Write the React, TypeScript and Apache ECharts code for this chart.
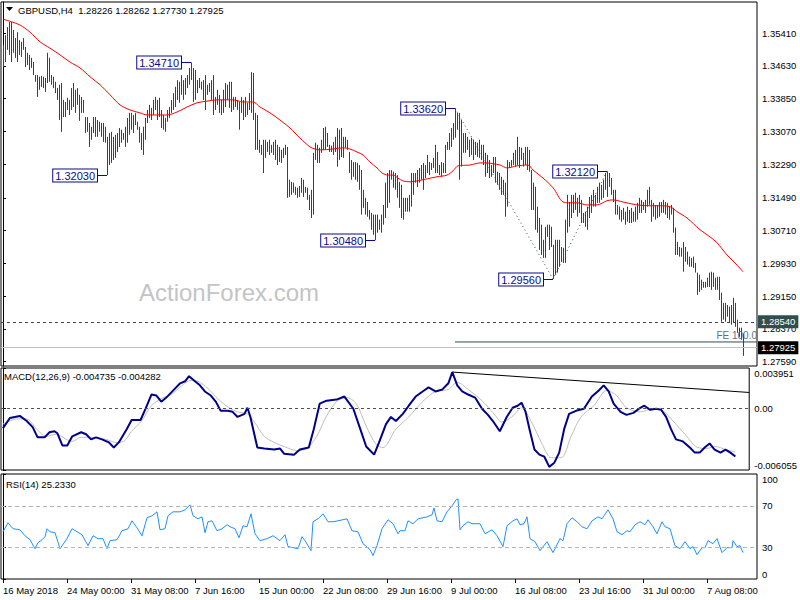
import React, { useEffect, useRef } from 'react';
import * as echarts from 'echarts';

const headerText = 'GBPUSD,H4  1.28226 1.28262 1.27730 1.27925';
const macdHeader = 'MACD(12,26,9) -0.004735 -0.004282';
const rsiHeader = 'RSI(14) 25.2330';
const watermark = 'ActionForex.com';

const priceTicks = [1.3541, 1.3463, 1.3385, 1.3307, 1.3229, 1.3149, 1.3071, 1.2993, 1.2915, 1.2837, 1.2759];
const priceMin = 1.27488;
const priceMax = 1.36148;
const macdTicks = [0.003951, 0, -0.006055];
const rsiTicks = [100, 70, 30, 0];
const timeTickIdx = [0, 32, 64, 96, 128, 160, 192, 224, 256, 288, 320, 352];
const timeTickLabels = ['16 May 2018', '24 May 00:00', '31 May 08:00', '7 Jun 16:00', '15 Jun 00:00', '22 Jun 08:00', '29 Jun 16:00', '9 Jul 00:00', '16 Jul 08:00', '23 Jul 16:00', '31 Jul 00:00', '7 Aug 08:00'];
const idxMin = -1;
const idxMax = 377;

// H4 bar highs / lows (bar 0 = 16 May 2018)
const highs = [
  1.3513, 1.3536, 1.3555, 1.3567, 1.3567, 1.3548, 1.3529, 1.3543, 1.3524, 1.3520,
  1.3529, 1.3508, 1.3494, 1.3489, 1.3482, 1.3472, 1.3441, 1.3441, 1.3437, 1.3439,
  1.3437, 1.3434, 1.3494, 1.3482, 1.3441, 1.3437, 1.3425, 1.3410, 1.3418, 1.3422,
  1.3382, 1.3377, 1.3387, 1.3382, 1.3410, 1.3422, 1.3406, 1.3410, 1.3394, 1.3389,
  1.3382, 1.3341, 1.3341, 1.3327, 1.3318, 1.3341, 1.3341, 1.3334, 1.3330, 1.3327,
  1.3327, 1.3318, 1.3294, 1.3303, 1.3306, 1.3294, 1.3299, 1.3303, 1.3315, 1.3311,
  1.3303, 1.3318, 1.3339, 1.3351, 1.3351, 1.3346, 1.3351, 1.3330, 1.3318, 1.3303,
  1.3318, 1.3339, 1.3358, 1.3370, 1.3363, 1.3382, 1.3389, 1.3382, 1.3387, 1.3358,
  1.3346, 1.3339, 1.3358, 1.3365, 1.3382, 1.3398, 1.3413, 1.3429, 1.3425, 1.3441,
  1.3429, 1.3434, 1.3441, 1.3458, 1.3471, 1.3458, 1.3453, 1.3429, 1.3434, 1.3425,
  1.3429, 1.3441, 1.3418, 1.3422, 1.3429, 1.3441, 1.3389, 1.3406, 1.3394, 1.3382,
  1.3406, 1.3422, 1.3418, 1.3425, 1.3425, 1.3389, 1.3389, 1.3382, 1.3377, 1.3389,
  1.3382, 1.3389, 1.3375, 1.3398, 1.3448, 1.3446, 1.3351, 1.3346, 1.3287, 1.3275,
  1.3287, 1.3287, 1.3282, 1.3287, 1.3275, 1.3282, 1.3287, 1.3275, 1.3270, 1.3263,
  1.3268, 1.3275, 1.3270, 1.3192, 1.3187, 1.3185, 1.3175, 1.3173, 1.3177, 1.3196,
  1.3192, 1.3175, 1.3173, 1.3156, 1.3168, 1.3256, 1.3280, 1.3275, 1.3268, 1.3287,
  1.3315, 1.3318, 1.3303, 1.3275, 1.3273, 1.3282, 1.3294, 1.3315, 1.3311, 1.3315,
  1.3294, 1.3294, 1.3287, 1.3258, 1.3239, 1.3234, 1.3234, 1.3232, 1.3227, 1.3215,
  1.3168, 1.3149, 1.3139, 1.3120, 1.3113, 1.3109, 1.3109, 1.3109, 1.3097, 1.3109,
  1.3132, 1.3185, 1.3208, 1.3215, 1.3215, 1.3211, 1.3208, 1.3203, 1.3187, 1.3180,
  1.3149, 1.3149, 1.3149, 1.3156, 1.3208, 1.3208, 1.3208, 1.3215, 1.3220, 1.3227,
  1.3232, 1.3227, 1.3251, 1.3234, 1.3232, 1.3244, 1.3275, 1.3258, 1.3227, 1.3234,
  1.3232, 1.3275, 1.3282, 1.3303, 1.3315, 1.3327, 1.3362, 1.3351, 1.3351, 1.3334,
  1.3303, 1.3303, 1.3294, 1.3287, 1.3292, 1.3287, 1.3282, 1.3280, 1.3287, 1.3275,
  1.3275, 1.3256, 1.3251, 1.3239, 1.3227, 1.3246, 1.3246, 1.3211, 1.3208, 1.3199,
  1.3192, 1.3185, 1.3239, 1.3234, 1.3239, 1.3256, 1.3263, 1.3294, 1.3270, 1.3268,
  1.3256, 1.3270, 1.3270, 1.3263, 1.3215, 1.3185, 1.3175, 1.3128, 1.3101, 1.3085,
  1.3049, 1.3080, 1.3085, 1.3085, 1.3080, 1.3037, 1.3049, 1.3049, 1.3049, 1.3032,
  1.3030, 1.3097, 1.3156, 1.3139, 1.3156, 1.3156, 1.3161, 1.3149, 1.3156, 1.3144,
  1.3113, 1.3116, 1.3128, 1.3151, 1.3156, 1.3168, 1.3156, 1.3175, 1.3185, 1.3180,
  1.3192, 1.3208, 1.3212, 1.3208, 1.3196, 1.3168, 1.3168, 1.3132, 1.3128, 1.3120,
  1.3125, 1.3116, 1.3128, 1.3120, 1.3125, 1.3116, 1.3128, 1.3137, 1.3149, 1.3144,
  1.3139, 1.3144, 1.3168, 1.3175, 1.3144, 1.3137, 1.3132, 1.3132, 1.3139, 1.3139,
  1.3144, 1.3139, 1.3137, 1.3128, 1.3132, 1.3125, 1.3078, 1.3044, 1.3032, 1.3030,
  1.3044, 1.3032, 1.3021, 1.3009, 1.3006, 1.3009, 1.2994, 1.2971, 1.2966, 1.2954,
  1.2949, 1.2949, 1.2959, 1.2971, 1.2973, 1.2971, 1.2959, 1.2961, 1.2961, 1.2923,
  1.2899, 1.2899, 1.2894, 1.2890, 1.2894, 1.2911, 1.2899, 1.2859, 1.2840, 1.2840,
  1.28262,
];
const lows = [
  1.3460, 1.3472, 1.3501, 1.3489, 1.3472, 1.3494, 1.3482, 1.3472, 1.3489, 1.3484,
  1.3501, 1.3460, 1.3465, 1.3453, 1.3458, 1.3441, 1.3425, 1.3389, 1.3406, 1.3413,
  1.3410, 1.3401, 1.3422, 1.3425, 1.3418, 1.3410, 1.3398, 1.3382, 1.3334, 1.3306,
  1.3341, 1.3341, 1.3358, 1.3346, 1.3358, 1.3365, 1.3351, 1.3370, 1.3332, 1.3351,
  1.3351, 1.3303, 1.3306, 1.3270, 1.3287, 1.3303, 1.3294, 1.3294, 1.3306, 1.3294,
  1.3282, 1.3280, 1.3203, 1.3227, 1.3232, 1.3239, 1.3244, 1.3258, 1.3270, 1.3280,
  1.3287, 1.3270, 1.3280, 1.3299, 1.3311, 1.3303, 1.3322, 1.3311, 1.3280, 1.3263,
  1.3251, 1.3287, 1.3327, 1.3339, 1.3334, 1.3346, 1.3358, 1.3334, 1.3341, 1.3315,
  1.3311, 1.3306, 1.3330, 1.3339, 1.3351, 1.3358, 1.3365, 1.3382, 1.3375, 1.3394,
  1.3382, 1.3394, 1.3410, 1.3418, 1.3429, 1.3377, 1.3382, 1.3398, 1.3410, 1.3406,
  1.3382, 1.3358, 1.3394, 1.3401, 1.3382, 1.3346, 1.3358, 1.3370, 1.3351, 1.3346,
  1.3351, 1.3365, 1.3382, 1.3363, 1.3353, 1.3358, 1.3365, 1.3358, 1.3311, 1.3351,
  1.3334, 1.3341, 1.3346, 1.3358, 1.3351, 1.3334, 1.3263, 1.3263, 1.3256, 1.3251,
  1.3208, 1.3244, 1.3258, 1.3251, 1.3256, 1.3251, 1.3239, 1.3227, 1.3234, 1.3232,
  1.3244, 1.3251, 1.3149, 1.3151, 1.3156, 1.3161, 1.3156, 1.3149, 1.3151, 1.3161,
  1.3151, 1.3161, 1.3144, 1.3120, 1.3101, 1.3109, 1.3239, 1.3232, 1.3232, 1.3256,
  1.3263, 1.3263, 1.3270, 1.3258, 1.3258, 1.3251, 1.3258, 1.3223, 1.3239, 1.3246,
  1.3244, 1.3268, 1.3263, 1.3208, 1.3192, 1.3199, 1.3192, 1.3187, 1.3168, 1.3109,
  1.3125, 1.3109, 1.3104, 1.3097, 1.3073, 1.3061, 1.3048, 1.3066, 1.3073, 1.3066,
  1.3085, 1.3101, 1.3125, 1.3137, 1.3192, 1.3173, 1.3168, 1.3149, 1.3125, 1.3101,
  1.3097, 1.3116, 1.3116, 1.3116, 1.3128, 1.3156, 1.3185, 1.3175, 1.3185, 1.3192,
  1.3168, 1.3196, 1.3208, 1.3203, 1.3215, 1.3220, 1.3208, 1.3208, 1.3203, 1.3199,
  1.3208, 1.3208, 1.3263, 1.3263, 1.3270, 1.3287, 1.3292, 1.3311, 1.3192, 1.3223,
  1.3256, 1.3256, 1.3263, 1.3246, 1.3251, 1.3239, 1.3251, 1.3246, 1.3244, 1.3239,
  1.3227, 1.3199, 1.3208, 1.3196, 1.3199, 1.3208, 1.3185, 1.3180, 1.3168, 1.3156,
  1.3156, 1.3104, 1.3128, 1.3220, 1.3223, 1.3227, 1.3223, 1.3227, 1.3220, 1.3239,
  1.3223, 1.3227, 1.3215, 1.3211, 1.3120, 1.3120, 1.3073, 1.3066, 1.3025, 1.3013,
  1.3006, 1.3006, 1.3056, 1.3025, 1.3032, 1.2956, 1.2966, 1.2971, 1.2985, 1.2997,
  1.2994, 1.2994, 1.3066, 1.3080, 1.3101, 1.3113, 1.3120, 1.3104, 1.3113, 1.3089,
  1.3089, 1.3080, 1.3073, 1.3101, 1.3113, 1.3128, 1.3128, 1.3137, 1.3137, 1.3144,
  1.3149, 1.3168, 1.3151, 1.3175, 1.3156, 1.3139, 1.3109, 1.3109, 1.3097, 1.3092,
  1.3097, 1.3085, 1.3092, 1.3089, 1.3089, 1.3092, 1.3092, 1.3097, 1.3113, 1.3113,
  1.3120, 1.3113, 1.3128, 1.3132, 1.3092, 1.3104, 1.3097, 1.3101, 1.3104, 1.3113,
  1.3113, 1.3109, 1.3101, 1.3097, 1.3109, 1.3066, 1.3013, 1.3013, 1.3009, 1.3009,
  1.2973, 1.2997, 1.2990, 1.2985, 1.2985, 1.2982, 1.2971, 1.2918, 1.2925, 1.2930,
  1.2935, 1.2935, 1.2937, 1.2937, 1.2930, 1.2937, 1.2930, 1.2930, 1.2906, 1.2854,
  1.2859, 1.2854, 1.2866, 1.2852, 1.2847, 1.2852, 1.2842, 1.2828, 1.2818, 1.2811,
  1.27730,
];

// 55-period moving average, [bar index, price]
const maLine = [
  [0, 1.3574], [8.5, 1.3560], [13.5, 1.3543], [18.5, 1.3520], [23.5, 1.3505], [28.5, 1.3489], [33.5, 1.3472],
  [38.5, 1.3458], [43.5, 1.3437], [48.5, 1.3418], [53.5, 1.3394], [58.5, 1.3370], [63.5, 1.3358], [68.5, 1.3351],
  [72, 1.3346], [77, 1.3346], [82, 1.3346], [87, 1.3353], [92, 1.3365], [97, 1.3375], [102, 1.3379], [107, 1.3382],
  [115, 1.3382], [120, 1.3377], [125, 1.3377], [128.5, 1.3365], [133.5, 1.3351], [138.5, 1.3334], [143.5, 1.3315],
  [148.5, 1.3291], [153.5, 1.3270], [156, 1.3265], [158.5, 1.3263], [165, 1.3265], [170, 1.3268], [173.5, 1.3265],
  [177, 1.3258], [180, 1.3251], [183.5, 1.3234], [187, 1.3220], [189.5, 1.3208], [192.5, 1.3203], [195, 1.3203],
  [197.5, 1.3196], [200, 1.3189], [203.5, 1.3187], [207, 1.3189], [212, 1.3194], [217, 1.3199], [222, 1.3203],
  [225, 1.3213], [227.5, 1.3225], [233.5, 1.3227], [238.5, 1.3232], [242, 1.3232], [245, 1.3230], [248.5, 1.3227],
  [252, 1.3220], [257, 1.3225], [262.5, 1.3227], [265, 1.3215], [270, 1.3196], [275, 1.3173], [280, 1.3139],
  [283.5, 1.3137], [287, 1.3137], [292, 1.3132], [297, 1.3132], [302, 1.3142], [305, 1.3144], [310, 1.3139],
  [317, 1.3132], [323.5, 1.3130], [328.5, 1.3130], [333.5, 1.3128], [337, 1.3116], [342, 1.3101], [348.5, 1.3073],
  [353.5, 1.3056], [357, 1.3042], [362, 1.3013], [367, 1.2989], [370, 1.2973],
];

const macdLine = [
  [0, -0.00195], [3.5, -0.00095], [8.5, -0.00075], [12, -0.00125], [15, -0.00185], [17.5, -0.00285], [21, -0.00285],
  [23.5, -0.00235], [26, -0.00225], [27.5, -0.00245], [30, -0.00365], [32.5, -0.00365], [35, -0.00275], [39.5, -0.00235],
  [42, -0.00255], [44.5, -0.00305], [47, -0.00285], [50, -0.00305], [53.5, -0.00335], [56, -0.00385], [58.5, -0.00335],
  [62.5, -0.00205], [65, -0.00115], [69.5, -0.00115], [72, -0.00005], [75, 0.00135], [77.5, 0.00125], [80, 0.00065],
  [82.5, 0.00105], [87, 0.00195], [89.5, 0.00245], [92, 0.00265], [94, 0.00315], [97, 0.00265], [99.5, 0.00225],
  [102, 0.00165], [105, 0.00125], [107.5, 0.00065], [110, -0.00025], [113.5, -0.00025], [116, -0.00035], [118.5, -0.00085],
  [122, -0.00055], [123.5, 0.00005], [125, -0.00085], [128.5, -0.00385], [132, -0.00395], [137, -0.00405], [140, -0.00395],
  [142, -0.00445], [147, -0.00455], [150, -0.00405], [154.5, -0.00385], [157, -0.00205], [160, 0.00045], [163.5, 0.00075],
  [168.5, 0.00085], [172.5, 0.00115], [177, -0.00005], [180, -0.00175], [183.5, -0.00375], [187.5, -0.00455], [190, -0.00335],
  [193.5, -0.00155], [196, -0.00085], [198.5, -0.00125], [202, -0.00055], [205, 0.00025], [208.5, 0.00115], [212, 0.00165],
  [215, 0.00205], [218.5, 0.00165], [222, 0.00185], [225, 0.00245], [227, 0.00355], [229.5, 0.00225], [232, 0.00165],
  [235, 0.00135], [238.5, 0.00105], [242, -0.00005], [245, -0.00065], [247.5, -0.00125], [251, -0.00225], [254.5, -0.00085],
  [257.5, 0.00005], [260, 0.00025], [262, 0.00055], [264, -0.00035], [266, -0.00205], [268.5, -0.00405], [271, -0.00455],
  [273.5, -0.00475], [276, -0.00575], [278.5, -0.00535], [281, -0.00435], [283.5, -0.00205], [286, -0.00055], [289.5, -0.00025],
  [293.5, -0.00005], [297.5, 0.00115], [301, 0.00175], [303.5, 0.00225], [306, 0.00165], [308.5, 0.00045], [312, -0.00035],
  [315, -0.00065], [318.5, -0.00045], [322, 0.00005], [324, 0.00025], [327, -0.00015], [330, -0.00005], [332.5, -0.00015],
  [335, -0.00085], [337.5, -0.00205], [340, -0.00305], [343.5, -0.00325], [347, -0.00385], [349.5, -0.00435], [352, -0.00435],
  [354.5, -0.00385], [357, -0.00345], [359.5, -0.00405], [362.5, -0.00435], [365, -0.00405], [367.5, -0.00435], [370, -0.004735],
];

const signalLine = [
  [0, -0.00155], [7, -0.00105], [12, -0.00105], [17, -0.00205], [22, -0.00275], [27, -0.00255], [32, -0.00305], [35, -0.00325],
  [39.5, -0.00285], [45, -0.00285], [52, -0.00305], [57, -0.00335], [61, -0.00325], [65, -0.00225], [70, -0.00125], [75, 0.00025],
  [80, 0.00095], [85, 0.00135], [90, 0.00215], [95, 0.00275], [98.5, 0.00265], [103.5, 0.00195], [108.5, 0.00095], [113.5, 0.00015],
  [118.5, -0.00035], [123.5, -0.00055], [127, -0.00135], [132, -0.00275], [137, -0.00335], [142, -0.00375], [148.5, -0.00415],
  [153.5, -0.00395], [158.5, -0.00275], [163.5, -0.00075], [168.5, 0.00065], [173.5, 0.00105], [178.5, 0.00045], [183.5, -0.00175],
  [188.5, -0.00355], [192, -0.00385], [198.5, -0.00205], [205, -0.00085], [212, 0.00065], [218.5, 0.00165], [225, 0.00185],
  [229.5, 0.00255], [235, 0.00185], [242, 0.00075], [248.5, -0.00065], [252, -0.00135], [257, -0.00085], [262, 0.00005],
  [267, -0.00135], [272, -0.00335], [277, -0.00485], [282, -0.00485], [287, -0.00275], [292, -0.00085], [298.5, 0.00025],
  [305, 0.00175], [310, 0.00125], [315, 0.00005], [322, -0.00035], [328.5, -0.00005], [333.5, -0.00025], [338.5, -0.00125],
  [345, -0.00265], [350, -0.00375], [355, -0.00395], [360, -0.00375], [365, -0.00405], [370, -0.004282],
];

const rsiLine = [
  [0, 45.2], [2.5, 53.8], [5, 48.1], [8.5, 47.1], [11, 41.4], [13.5, 37.6], [16, 29.0], [17.5, 34.8], [19.5, 37.6], [21, 40.5],
  [22, 48.1], [23.5, 45.2], [26, 44.3], [28.5, 29.0], [32, 38.6], [34.5, 48.1], [37, 45.2], [39.5, 42.4], [42.5, 31.9], [45, 41.4],
  [47.5, 38.6], [50, 38.6], [52, 29.0], [53.5, 36.7], [57, 37.6], [59.5, 46.2], [62.5, 48.1], [64.5, 55.7], [67, 49.0], [69.5, 41.4],
  [72, 58.6], [74.5, 60.5], [77, 64.3], [78.5, 47.1], [81, 48.1], [82.5, 60.5], [85, 64.3], [88.5, 64.3], [91, 66.2], [93.5, 71.0],
  [95, 60.5], [97.5, 57.6], [99.5, 59.5], [101, 44.3], [102.5, 54.8], [104.5, 55.7], [107, 46.2], [109.5, 48.1], [112, 51.9],
  [113.5, 50.0], [116, 48.1], [118, 39.5], [120, 51.0], [122, 50.0], [124, 62.4], [126, 43.3], [128.5, 36.7], [132, 38.6],
  [135, 41.4], [138.5, 36.7], [141, 42.4], [142.5, 31.0], [147.5, 29.0], [149.5, 40.5], [151, 36.7], [154, 27.1], [155, 54.8],
  [157.5, 57.6], [160, 62.4], [162.5, 54.8], [165, 54.8], [167.5, 55.7], [172, 57.6], [174.5, 46.2], [177.5, 45.2], [180, 33.8],
  [183.5, 28.1], [185, 22.4], [187, 31.9], [189.5, 48.1], [192.5, 56.7], [195, 52.9], [197.5, 43.3], [198.5, 46.2], [201, 46.2],
  [202.5, 55.7], [205, 52.9], [207.5, 57.6], [212, 59.5], [214.5, 61.4], [215.5, 68.1], [217, 55.7], [219.5, 54.8], [222, 64.3],
  [224.5, 70.0], [226.5, 75.7], [227.5, 76.7], [228.5, 47.1], [230, 51.0], [232.5, 54.8], [234.5, 52.9], [238.5, 52.9], [241, 43.3],
  [244.5, 47.1], [247, 41.4], [250, 31.0], [252, 51.0], [255, 55.7], [257, 57.6], [258.5, 51.9], [260.5, 52.9], [262, 59.5],
  [263.5, 38.6], [266, 35.7], [268.5, 27.1], [272, 35.7], [275, 25.2], [278.5, 38.6], [280, 36.7], [282, 52.9], [284.5, 58.6],
  [287, 54.8], [289.5, 50.0], [292, 48.1], [294.5, 55.7], [297.5, 59.5], [299.5, 57.6], [300.5, 60.5], [302.5, 66.2], [305, 57.6],
  [307, 45.2], [309.5, 42.4], [312, 46.2], [313.5, 45.2], [316, 51.9], [318.5, 54.8], [321, 51.9], [322.5, 56.7], [325, 50.0],
  [327, 43.3], [329.5, 54.8], [331, 50.0], [333.5, 48.1], [336, 31.9], [338.5, 29.0], [341, 35.7], [343.5, 29.0], [345, 31.0],
  [347, 23.3], [349.5, 30.0], [351, 30.0], [352.5, 36.7], [355, 33.8], [357, 38.6], [359.5, 25.2], [362, 30.0], [364.5, 30.0],
  [365, 36.7], [367, 31.0], [368.5, 31.9], [370, 25.2],
];

// swing highs / lows annotated with boxes: [bar index, price]
const swingPoints = [[52, 1.3203], [94, 1.3471], [186, 1.3048], [226, 1.3362], [275, 1.2956], [302, 1.3212]];
const fiboPath = [[226, 1.3362], [275, 1.2956], [302, 1.3212]];
const feLevel = 1.2806;
const feStartIdx = 226;
const feText = 'FE 100.0';
const supportLevel = 1.2854;
const bidLevel = 1.27925;
const macdTrend = [[227, 0.00355], [377, 0.00155]];
const rsiLevels = [70, 30];

const FONT = 'Liberation Sans';
const BAR_COLOR = '#1D4965';
const NAVY = '#0B0B8A';

export default function App() {
  const ref = useRef<HTMLDivElement>(null);
  useEffect(() => {
    if (!ref.current) return;
    const chart = echarts.init(ref.current, null, { renderer: 'svg' });
    const labelFmt = (v: number) => {
      const k = timeTickIdx.indexOf(Math.round(v));
      return k >= 0 ? timeTickLabels[k] : '';
    };
    const hiddenX = (gi: number) => ({
      type: 'value', gridIndex: gi, min: idxMin, max: idxMax, show: false, splitLine: { show: false },
    });
    const baseY = {
      type: 'value', position: 'right', splitLine: { show: false },
      axisLine: { show: true, lineStyle: { color: '#000' } },
    };
    const option: any = {
      animation: false,
      backgroundColor: '#fff',
      textStyle: { fontFamily: FONT },
      grid: [
        { left: 1, top: 2, width: 756, height: 364, show: true, borderColor: '#000', borderWidth: 1 },
        { left: 1, top: 368, width: 756, height: 102, show: true, borderColor: '#000', borderWidth: 1 },
        { left: 1, top: 474, width: 756, height: 105, show: true, borderColor: '#000', borderWidth: 1 },
      ],
      xAxis: [
        hiddenX(0),
        hiddenX(1),
        {
          type: 'value', gridIndex: 2, min: idxMin, max: idxMax, splitLine: { show: false },
          axisLine: { show: false },
          axisTick: { show: true, customValues: timeTickIdx, length: 4, lineStyle: { color: '#000' } },
          axisLabel: { customValues: timeTickIdx, formatter: labelFmt, align: 'left', margin: 6, fontSize: 9.5, color: '#000', fontFamily: FONT },
        },
      ],
      yAxis: [
        {
          ...baseY, gridIndex: 0, min: priceMin, max: priceMax,
          axisTick: { show: true, length: 3, customValues: priceTicks, lineStyle: { color: '#000' } },
          axisLabel: { customValues: priceTicks, formatter: (v: number) => v.toFixed(5), fontSize: 9.5, color: '#000', margin: 5, fontFamily: FONT },
        },
        {
          ...baseY, gridIndex: 1, min: macdTicks[2], max: macdTicks[0],
          axisTick: { show: true, length: 3, customValues: macdTicks, lineStyle: { color: '#000' } },
          axisLabel: {
            customValues: macdTicks, formatter: (v: number) => (v === 0 ? '0.00' : v.toFixed(6)),
            fontSize: 9.5, color: '#000', margin: 5, fontFamily: FONT,
            verticalAlignMaxLabel: 'bottom', verticalAlignMinLabel: 'top',
          },
        },
        {
          ...baseY, gridIndex: 2, min: 0, max: 100.5,
          axisTick: { show: true, length: 3, customValues: rsiTicks, lineStyle: { color: '#000' } },
          axisLabel: {
            customValues: rsiTicks, fontSize: 9.5, color: '#000', margin: 5, fontFamily: FONT,
            verticalAlignMaxLabel: 'bottom', verticalAlignMinLabel: 'top',
          },
        },
      ],
      graphic: [
        { type: 'polygon', shape: { points: [[6, 7], [13, 7], [9.5, 11]] }, style: { fill: '#000' } },
        { type: 'text', x: 18, y: 10, style: { text: headerText, fill: '#000', font: `9.5px "${FONT}"`, verticalAlign: 'middle' } },
        { type: 'text', x: 4, y: 376, style: { text: macdHeader, fill: '#000', font: `9.5px "${FONT}"`, verticalAlign: 'middle' } },
        { type: 'text', x: 6, y: 484, style: { text: rsiHeader, fill: '#000', font: `9.5px "${FONT}"`, verticalAlign: 'middle' } },
        { type: 'text', x: 139, y: 292, z: -1, style: { text: watermark, fill: '#C4C4C4', font: `24px "${FONT}"`, verticalAlign: 'middle' } },
      ],
      series: [
        {
          type: 'custom', xAxisIndex: 0, yAxisIndex: 0, clip: true, z: 2,
          data: highs.map((h, i) => [i, h, lows[i]]),
          encode: { x: 0, y: [1, 2] },
          renderItem: (params: any, api: any) => {
            const i = api.value(0);
            const top = api.coord([i, api.value(1)]);
            const bot = api.coord([i, api.value(2)]);
            const x = Math.round(top[0]) + 0.5;
            return {
              type: 'line',
              shape: { x1: x, y1: top[1], x2: x, y2: Math.max(bot[1], top[1] + 1) },
              style: { stroke: BAR_COLOR, lineWidth: 1 },
            };
          },
        },
        {
          type: 'line', xAxisIndex: 0, yAxisIndex: 0, data: maLine, symbol: 'none', smooth: 0.3, z: 3,
          lineStyle: { color: '#FF0000', width: 1 },
          markLine: {
            silent: true, symbol: ['none', 'none'], animation: false, precision: 5,
            data: [
              {
                yAxis: supportLevel,
                lineStyle: { color: '#2F4F4F', type: [3, 3], width: 1 },
                label: { show: true, position: 'end', distance: 1, formatter: supportLevel.toFixed(5), color: '#fff', backgroundColor: '#2F4F4F', padding: [2, 3, 1, 3], fontSize: 9.5, fontFamily: FONT },
              },
              {
                yAxis: bidLevel,
                lineStyle: { color: '#C0C0C0', type: 'solid', width: 1 },
                label: { show: true, position: 'end', distance: 1, formatter: bidLevel.toFixed(5), color: '#fff', backgroundColor: '#000', padding: [2, 3, 1, 3], fontSize: 9.5, fontFamily: FONT },
              },
            ],
          },
        },
        {
          type: 'line', xAxisIndex: 0, yAxisIndex: 0, data: fiboPath, symbol: 'none', z: 3,
          lineStyle: { color: '#2F4F4F', width: 1, type: [1, 3] },
        },
        {
          type: 'line', xAxisIndex: 0, yAxisIndex: 0, z: 3, symbol: 'none',
          lineStyle: { color: '#2F4F4F', width: 1 },
          data: [[feStartIdx, feLevel], [idxMax, feLevel]],
          endLabel: {
            show: true, formatter: feText, color: '#607080', fontSize: 10, fontFamily: FONT,
            align: 'right', verticalAlign: 'bottom', distance: 0, offset: [0, -1],
          },
        },
        {
          type: 'custom', xAxisIndex: 0, yAxisIndex: 0, z: 5, clip: false,
          data: swingPoints,
          encode: { x: 0, y: 1 },
          renderItem: (params: any, api: any) => {
            const i = api.value(0);
            const v = api.value(1);
            const p = api.coord([i, v]);
            const q = api.coord([i - 5, v]);
            const y = Math.round(p[1]) + 0.5;
            return {
              type: 'group',
              children: [
                { type: 'line', shape: { x1: q[0], y1: y, x2: p[0], y2: y }, style: { stroke: NAVY, lineWidth: 1 } },
                {
                  type: 'text', x: q[0], y: y,
                  style: {
                    text: v.toFixed(5), fill: NAVY, font: `11px "${FONT}"`, align: 'right', verticalAlign: 'middle',
                    backgroundColor: '#fff', borderColor: NAVY, borderWidth: 1, padding: [1, 2, 0, 2],
                  },
                },
              ],
            };
          },
        },
        {
          type: 'line', xAxisIndex: 1, yAxisIndex: 1, data: signalLine, symbol: 'none', smooth: 0.3, z: 2,
          lineStyle: { color: '#BEBEBE', width: 1 },
          markLine: {
            silent: true, symbol: ['none', 'none'], label: { show: false }, precision: 6,
            data: [{ yAxis: 0 }],
            lineStyle: { color: '#505050', type: [3, 3], width: 1 },
          },
        },
        {
          type: 'line', xAxisIndex: 1, yAxisIndex: 1, data: macdLine, symbol: 'none', z: 3,
          lineStyle: { color: '#00008B', width: 2 },
        },
        {
          type: 'line', xAxisIndex: 1, yAxisIndex: 1, data: macdTrend, symbol: 'none', z: 3,
          lineStyle: { color: '#000', width: 1 },
        },
        {
          type: 'line', xAxisIndex: 2, yAxisIndex: 2, data: rsiLine, symbol: 'none', z: 3,
          lineStyle: { color: '#1E90FF', width: 1 },
          markLine: {
            silent: true, symbol: ['none', 'none'], label: { show: false }, precision: 2,
            data: rsiLevels.map((l) => ({ yAxis: l })),
            lineStyle: { color: '#B4B4B4', type: [4, 3], width: 1 },
          },
        },
      ],
    };
    chart.setOption(option);
    return () => chart.dispose();
  }, []);
  return <div ref={ref} style={{ position: 'absolute', left: 0, top: 0, width: 800, height: 600 }} />;
}
